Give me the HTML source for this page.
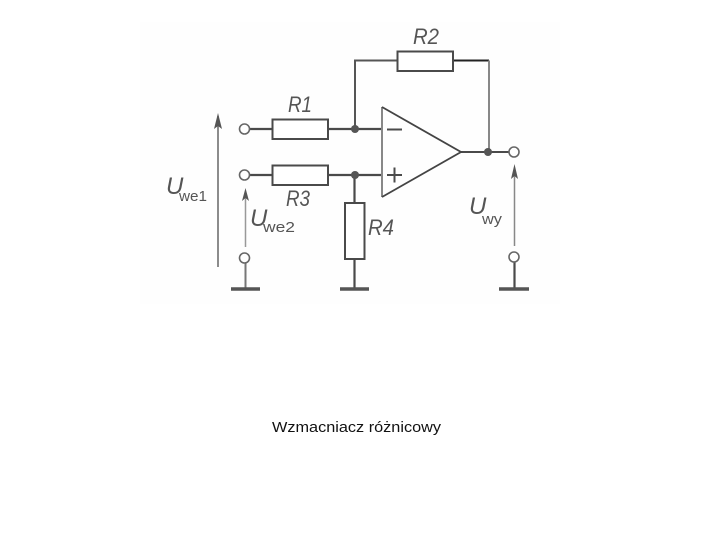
<!DOCTYPE html>
<html>
<head>
<meta charset="utf-8">
<style>
html,body{margin:0;padding:0;background:#fff;width:720px;height:540px;overflow:hidden}
svg{display:block}
text{font-family:"Liberation Sans",sans-serif}
.l{fill:#555;font-style:italic;font-size:22px}
.s{fill:#555;font-size:15px}
</style>
</head>
<body>
<svg width="720" height="540" viewBox="0 0 720 540" xmlns="http://www.w3.org/2000/svg">
<rect x="140" y="22" width="420" height="282" fill="#fefefe"/>
<g fill="none" stroke="#4a4a4a" stroke-width="2">
  <!-- wires -->
  <path d="M250 129H272M328 129H382" stroke-width="2.200"/>
  <path d="M250 175H272M328 175H382" stroke-width="2.200"/>
  <path d="M355 129V60.500H397" stroke="#555" stroke-width="2"/>
  <path d="M453 60.500H489" stroke="#222" stroke-width="2"/>
  <path d="M489 60.500V152" stroke="#888" stroke-width="2"/>
  <path d="M461 152H509" stroke-width="2"/>
  <path d="M354.500 175V203M354.500 259V289" stroke-width="2.200"/>
  <path d="M245.500 263V289" stroke="#777" stroke-width="2"/>
  <path d="M514.500 262V289" stroke-width="2.200"/>
  <!-- resistors -->
  <rect x="272.500" y="119.500" width="55.500" height="19.500" fill="#fff"/>
  <rect x="272.500" y="165.500" width="55.500" height="19.500" fill="#fff"/>
  <rect x="397.500" y="51.500" width="55.500" height="19.500" fill="#fff"/>
  <rect x="345" y="203" width="19.500" height="56" fill="#fff"/>
  <!-- op amp -->
  <path d="M382 107V197" stroke="#888" stroke-width="2"/>
  <path d="M382 107L461 152L382 197" stroke="#444" stroke-width="1.800"/>
  <path d="M387 129.500H402" stroke-width="2"/>
  <path d="M387 175H402M394.500 167.500V182.500" stroke-width="2"/>
  <!-- grounds -->
  <path d="M231 289H260M340 289H369M499 289H529" stroke="#555" stroke-width="3.500"/>
  <!-- voltage arrows -->
  <path d="M218 116V267" stroke="#666" stroke-width="1.500"/>
  <path d="M245.500 194V247" stroke="#999" stroke-width="1.500"/>
  <path d="M514.500 168V246" stroke="#888" stroke-width="1.500"/>
</g>
<g fill="#555">
  <path d="M218 113L214 129L218 126L222 129Z"/>
  <path d="M245.500 188L242 201L245.500 198L249 201Z"/>
  <path d="M514.500 164L511 179L514.500 176L518 179Z"/>
  <circle cx="355" cy="129" r="4"/>
  <circle cx="355" cy="175" r="4"/>
  <circle cx="488" cy="152" r="4"/>
</g>
<g fill="#fff" stroke="#666" stroke-width="1.600">
  <circle cx="244.500" cy="129" r="5"/>
  <circle cx="244.500" cy="175" r="5"/>
  <circle cx="244.500" cy="258" r="5"/>
  <circle cx="514" cy="152" r="5"/>
  <circle cx="514" cy="257" r="5"/>
</g>
<text class="l" x="288" y="112" textLength="24" lengthAdjust="spacingAndGlyphs">R1</text>
<text class="l" x="413" y="44" textLength="26" lengthAdjust="spacingAndGlyphs">R2</text>
<text class="l" x="286" y="206" textLength="24" lengthAdjust="spacingAndGlyphs">R3</text>
<text class="l" x="368" y="235" textLength="26" lengthAdjust="spacingAndGlyphs">R4</text>
<text class="l" x="166" y="194" style="font-size:24px">U</text>
<text class="s" x="179" y="201" textLength="28" lengthAdjust="spacingAndGlyphs">we1</text>
<text class="l" x="250" y="226" style="font-size:24px">U</text>
<text class="s" x="263" y="232" textLength="32" lengthAdjust="spacingAndGlyphs">we2</text>
<text class="l" x="469" y="214" style="font-size:24px">U</text>
<text class="s" x="482" y="224" textLength="20" lengthAdjust="spacingAndGlyphs">wy</text>
<text x="272" y="432" font-size="15" fill="#111" textLength="169" lengthAdjust="spacingAndGlyphs">Wzmacniacz różnicowy</text>
</svg>
</body>
</html>
